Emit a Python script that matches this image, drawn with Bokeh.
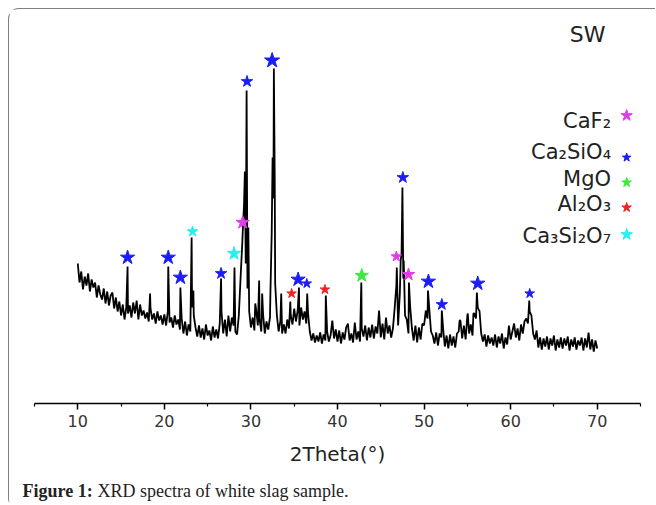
import numpy as np
from bokeh.plotting import figure
from bokeh.layouts import column
from bokeh.models import Range1d, FixedTicker, Label, ColumnDataSource
from bokeh.core.properties import value
from bokeh.embed import file_html
from bokeh.resources import INLINE

# ---------------- data ----------------
# scan grid of the background trace (2theta, degrees)
scan_start = 10.0
scan_step = 0.2
# background / noise trace, intensity (a.u.), one value per grid step 10.0 ... 70.0
background = [
    140, 121, 132, 114, 127, 118, 130, 112, 124, 116,   # 10.0-11.8
    121, 106, 118, 109, 104, 115, 100, 112, 98, 108,    # 12.0-13.8
    111, 95, 106, 92, 102, 88, 99, 84, 96, 90,          # 14.0-15.8
    98, 86, 101, 90, 103, 84, 99, 88, 93, 85,           # 16.0-17.8
    91, 82, 95, 84, 90, 80, 92, 83, 88, 79,             # 18.0-19.8
    89, 78, 92, 81, 86, 76, 88, 79, 84, 74,             # 20.0-21.8
    85, 70, 82, 68, 79, 72, 96, 88, 76, 67,             # 22.0-23.8
    78, 66, 75, 64, 79, 68, 73, 63, 77, 66,             # 24.0-25.8
    74, 65, 80, 92, 70, 84, 67, 88, 72, 86,             # 26.0-27.8
    78, 72, 69, 88, 125, 160, 198, 140, 115, 92,        # 28.0-29.8
    76, 86, 73, 94, 78, 84, 72, 90, 70, 82,             # 30.0-31.8
    74, 86, 170, 205, 120, 88, 72, 82, 70, 79,          # 32.0-33.8
    70, 84, 75, 88, 79, 95, 82, 93, 78, 96,             # 34.0-35.8
    84, 92, 80, 90, 72, 63, 70, 61, 68, 62,             # 36.0-37.8
    71, 60, 69, 63, 72, 62, 68, 83, 65, 74,             # 38.0-39.8
    62, 73, 60, 71, 64, 76, 80, 63, 70, 61,             # 40.0-41.8
    81, 64, 72, 62, 75, 67, 78, 63, 76, 66,             # 42.0-43.8
    79, 65, 77, 70, 93, 66, 80, 64, 86, 70,             # 44.0-45.8
    78, 66, 75, 95, 118, 78, 110, 150, 125, 88,         # 46.0-47.8
    84, 70, 96, 75, 63, 78, 61, 76, 64, 80,             # 48.0-49.8
    78, 93, 85, 95, 72, 68, 60, 71, 58, 70,             # 50.0-51.8
    66, 75, 57, 68, 55, 69, 58, 67, 56, 70,             # 52.0-53.8
    72, 83, 65, 78, 64, 88, 70, 79, 68, 90,             # 54.0-55.8
    85, 96, 93, 70, 62, 69, 57, 68, 60, 66,             # 56.0-57.8
    58, 69, 56, 67, 60, 70, 55, 66, 59, 78,             # 58.0-59.8
    64, 72, 80, 66, 75, 63, 79, 70, 82, 85,             # 60.0-61.8
    80, 92, 88, 70, 64, 73, 56, 66, 54, 65,             # 62.0-63.8
    57, 67, 54, 65, 58, 68, 53, 64, 56, 66,             # 64.0-65.8
    55, 65, 58, 67, 53, 64, 57, 66, 54, 63,             # 66.0-67.8
    58, 66, 53, 65, 56, 71, 54, 64, 52, 63,             # 68.0-69.8
    55,                                                 # 70.0
]

# diffraction peaks (2theta, intensity a.u.)
peak_2theta = [15.75, 18.35, 20.45, 21.85, 23.15, 23.35, 26.55, 28.1, 29.05, 29.3,
               29.5, 29.7, 30.5, 30.95, 31.3, 32.25, 32.5, 32.65, 32.75, 33.5,
               34.55, 35.55, 36.5, 38.65, 42.75, 46.85, 47.3, 47.5, 47.65, 48.25,
               50.45, 52.05, 54.1, 55.05, 55.7, 56.1, 56.35, 62.15]
peak_intensity = [137, 110, 137, 116, 166, 113, 125, 136, 171, 232,
                  313, 176, 100, 123, 110, 110, 246, 335, 223, 110,
                  102, 116, 110, 108, 121, 136, 143, 216, 143, 121,
                  113, 93, 83, 90, 90, 111, 93, 103]

# phases
phase_names = ["CaF₂", "Ca₂SiO₄", "MgO", "Al₂O₃", "Ca₃Si₂O₇"]
phase_colors = ["#e03ce8", "#1c1cf5", "#3ee83e", "#f02424", "#26efef"]

# phase markers above peaks: phase index, 2theta, intensity
marker_phase = [1, 1, 1, 1, 1, 1, 1, 1, 1, 1, 1, 1, 1,
                4, 4, 0, 0, 0, 3, 3, 2]
marker_2theta = [15.75, 20.45, 21.85, 26.55, 29.55, 32.45, 35.45, 36.45, 47.55, 50.5, 52.05, 56.2, 62.2,
                 23.25, 28.05, 29.05, 46.8, 48.2, 34.7, 38.55, 42.8]
marker_intensity = [146, 146, 126, 130, 322, 343, 124, 120, 226, 122, 99, 120, 110,
                    172, 150, 181, 147, 129, 110, 114, 128]

tick_values = [10, 20, 30, 40, 50, 60, 70]
minor_tick_values = [5, 15, 25, 35, 45, 55, 65, 75]

axis_title = "2Theta(°)"
sample_name = "SW"
caption_bold = "Figure 1:"
caption_text = "XRD spectra of white slag sample."

# ---------------- styling (sizes) ----------------
marker_sizes = [15, 15, 15, 12, 12, 16, 15, 10, 12, 15, 12, 15, 10,
                11, 14, 14, 11, 13, 10, 10, 14]
legend_marker_sizes = [12, 9, 10, 10, 12]

# ---------------- build trace ----------------
grid = np.round(scan_start + scan_step * np.arange(len(background)), 2)
xs = np.concatenate([grid, np.array(peak_2theta)])
ys = np.concatenate([np.array(background, float), np.array(peak_intensity, float)])
order = np.argsort(xs, kind="stable")
xs, ys = xs[order], ys[order]

FONT = "DejaVu Sans"
W = 646

p = figure(width=W, height=460, x_range=Range1d(5, 75), y_range=Range1d(0, 383),
           output_backend="svg", toolbar_location=None, y_axis_location=None,
           min_border_left=25, min_border_right=W - 631, min_border_top=11, min_border_bottom=66)
p.outline_line_color = None
p.xgrid.visible = False
p.ygrid.visible = False
p.background_fill_color = "white"
p.border_fill_color = "white"

p.line(xs, ys, line_color="black", line_width=1.8)

ms = ColumnDataSource(dict(
    x=marker_2theta, y=marker_intensity,
    c=[phase_colors[i] for i in marker_phase], s=marker_sizes))
p.scatter("x", "y", source=ms, marker="star", size="s", fill_color="c", line_color="c")

# legend (text right-aligned + coloured star)
leg_text_y = [283, 251.5, 224.5, 199.5, 168]
leg_star_y = [288, 246, 221, 196, 169]
lt = ColumnDataSource(dict(x=[71.6] * 5, y=leg_text_y, t=phase_names))
p.text("x", "y", text="t", source=lt, text_align="right", text_baseline="middle",
       text_font=value(FONT), text_font_size="21px", text_color="#222222")
ls = ColumnDataSource(dict(x=[73.4] * 5, y=leg_star_y, c=phase_colors, s=legend_marker_sizes))
p.scatter("x", "y", source=ls, marker="star", size="s", fill_color="c", line_color="c")

p.add_layout(Label(x=68.9, y=369, text=sample_name, text_align="center", text_baseline="middle",
                   text_font=FONT, text_font_size="22px", text_color="#222222"))

# axis
ax = p.xaxis[0]
ax.ticker = FixedTicker(ticks=tick_values, minor_ticks=minor_tick_values)
ax.axis_label = axis_title
ax.axis_line_color = "black"
ax.axis_line_width = 1.5
ax.major_tick_line_color = "black"
ax.major_tick_line_width = 1.5
ax.minor_tick_line_color = "black"
ax.minor_tick_line_width = 1.2
ax.major_tick_in = 0
ax.major_tick_out = 6
ax.minor_tick_in = 0
ax.minor_tick_out = 3
ax.major_label_text_font = FONT
ax.major_label_text_font_size = "16px"
ax.major_label_text_color = "#333333"
ax.major_label_standoff = 5
ax.axis_label_text_font = FONT
ax.axis_label_text_font_size = "20px"
ax.axis_label_text_font_style = "normal"
ax.axis_label_text_color = "#222222"
ax.axis_label_standoff = 12

# caption strip
cap = figure(width=W, height=34, x_range=Range1d(0, W), y_range=Range1d(0, 34),
             output_backend="svg", toolbar_location=None,
             x_axis_location=None, y_axis_location=None, min_border=0)
cap.outline_line_color = None
cap.xgrid.visible = False
cap.ygrid.visible = False
cap.text(x=[13], y=[13], text=[caption_bold], text_align="left", text_baseline="middle",
         text_font=value("Liberation Serif"), text_font_style="bold", text_font_size="18px",
         text_color="#222222")
cap.text(x=[88], y=[13], text=[caption_text], text_align="left", text_baseline="middle",
         text_font=value("Liberation Serif"), text_font_size="18px", text_color="#222222")

for f in (p, cap):
    if "frame_align" in f.properties():
        f.frame_align = False

layout = column(p, cap, spacing=0,
                styles={"margin-top": "8px", "margin-left": "8px",
                        "border-top": "1px solid #808080", "border-left": "1px solid #808080",
                        "border-top-left-radius": "11px", "border-bottom-left-radius": "4px"})

open("out.html", "w").write(file_html(layout, INLINE))
